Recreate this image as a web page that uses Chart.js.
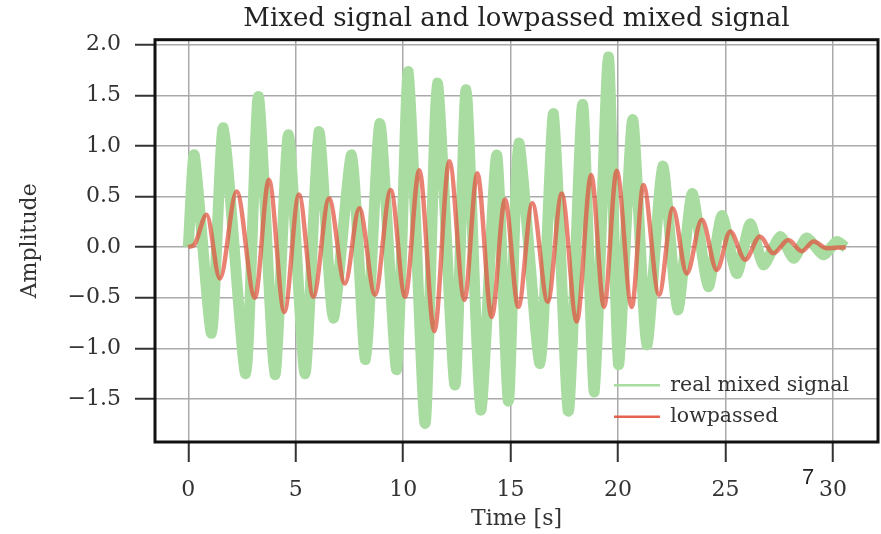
<!DOCTYPE html>
<html><head><meta charset="utf-8">
<script src="https://cdn.jsdelivr.net/npm/chart.js@4.4.0/dist/chart.umd.min.js"></script>
<style>html,body{margin:0;padding:0;background:#fff;} #wrap{width:881px;height:534px;position:relative;}</style>
</head><body><div id="wrap"><canvas id="c"></canvas></div>
<script>
const titleText = 'Mixed signal and lowpassed mixed signal';
const xLabel = 'Time [s]';
const yLabel = 'Amplitude';
const seriesNames = ['real mixed signal', 'lowpassed'];
const xTicks = [0, 5, 10, 15, 20, 25, 30];
const yTicks = [-1.5, -1.0, -0.5, 0.0, 0.5, 1.0, 1.5, 2.0];
const strayNote = '7';

// lowpassed signal: read at its turning points
const lowTimes = [0, 0.3, 0.85, 1.47, 2.25, 3.1, 3.75, 4.47, 5.15, 5.82, 6.55, 7.29, 7.96, 8.69, 9.42, 10.09, 10.75, 11.45, 12.15, 12.85, 13.45, 14.12, 14.74, 15.36, 16.01, 16.73, 17.38, 18.08, 18.75, 19.35, 19.94, 20.64, 21.18, 21.91, 22.55, 23.2, 23.9, 24.6, 25.22, 25.92, 26.6, 27.23, 27.93, 28.55, 29.1, 29.72, 30.6];
const lowValues = [0, 0.03, 0.32, -0.31, 0.55, -0.50, 0.665, -0.64, 0.52, -0.49, 0.48, -0.36, 0.385, -0.47, 0.566, -0.49, 0.76, -0.83, 0.85, -0.52, 0.73, -0.69, 0.47, -0.59, 0.435, -0.54, 0.53, -0.735, 0.714, -0.59, 0.754, -0.59, 0.615, -0.47, 0.385, -0.26, 0.27, -0.225, 0.155, -0.125, 0.105, -0.06, 0.07, -0.04, 0.055, -0.01, 0.0];

// real mixed signal: read at the tips of its bursts
const mixTimes = [0, 0.28, 1.08, 1.63, 2.67, 3.26, 4.03, 4.66, 5.43, 6.08, 6.75, 7.6, 8.25, 8.92, 9.70, 10.24, 11.02, 11.59, 12.41, 12.93, 13.61, 14.35, 14.9, 15.38, 16.37, 17.0, 17.69, 18.35, 18.9, 19.55, 20.02, 20.68, 21.34, 22.08, 22.78, 23.45, 24.2, 24.83, 25.53, 26.15, 26.77, 27.55, 28.17, 28.78, 29.56, 30.17, 30.6];
const mixValues = [0, 0.91, -0.85, 1.18, -1.25, 1.49, -1.26, 1.11, -1.25, 1.14, -0.70, 0.91, -1.11, 1.22, -1.21, 1.735, -1.74, 1.62, -1.36, 1.555, -1.61, 0.91, -1.52, 1.03, -1.15, 1.32, -1.62, 1.41, -1.43, 1.88, -1.16, 1.26, -0.965, 0.80, -0.62, 0.53, -0.39, 0.31, -0.26, 0.23, -0.175, 0.105, -0.11, 0.09, -0.076, 0.055, 0];

const FONT = 'DejaVu Serif';
const GREEN = '#a8dca0';
const RED = 'rgba(226,82,62,0.72)';
const toXY = (ts, vs) => ts.map((t, i) => ({x: t, y: vs[i]}));

const framePlugin = {
  id: 'frame',
  afterDraw(chart) {
    const a = chart.chartArea, c = chart.ctx;
    c.save();
    c.strokeStyle = '#111';
    c.lineWidth = 3;
    c.strokeRect(a.left, a.top, a.right - a.left, a.bottom - a.top);
    c.restore();
  }
};
const legendPlacer = {
  id: 'legendPlacer',
  afterLayout(chart) {
    const l = chart.legend;
    if (!l) return;
    const a = chart.chartArea;
    const w = l.width, h = l.height;
    l.left = a.right - 275; l.right = l.left + w + 400;
    l.top = a.bottom - 78; l.bottom = l.top + h + 200;
  }
};
const notePlugin = {
  id: 'note',
  afterDraw(chart) {
    const c = chart.ctx, xs = chart.scales.x, a = chart.chartArea;
    c.save();
    c.font = '22px "Liberation Sans"';
    c.fillStyle = '#222';
    c.textAlign = 'center';
    c.textBaseline = 'middle';
    c.fillText(strayNote, xs.getPixelForValue(28.85), a.bottom + 36);
    c.restore();
  }
};

new Chart(document.getElementById('c'), {
  type: 'line',
  data: {datasets: [
    {label: seriesNames[1], data: toXY(lowTimes, lowValues), borderColor: RED, borderWidth: 4.5, pointRadius: 0, cubicInterpolationMode: 'monotone', fill: false},
    {label: seriesNames[0], data: toXY(mixTimes, mixValues), borderColor: GREEN, borderWidth: 11, pointRadius: 0, tension: 0.2, borderJoinStyle: 'bevel', fill: false}
  ]},
  options: {
    responsive: true, maintainAspectRatio: false, animation: false,
    layout: {padding: {left: 0, right: 3, top: 0, bottom: 0}},
    scales: {
      x: {
        type: 'linear', min: -1.55, max: 32.1,
        afterBuildTicks: s => { s.ticks = xTicks.map(v => ({value: v})); },
        afterFit: s => { s.height = 92; },
        grid: {color: '#aaaaaa', lineWidth: 1.5, tickLength: 20, tickWidth: 2, tickColor: '#333', drawTicks: true},
        border: {display: false},
        ticks: {font: {family: FONT, size: 22}, color: '#333', padding: 15, maxRotation: 0, autoSkip: false, callback: v => String(v)},
        title: {display: true, text: xLabel, font: {family: FONT, size: 22}, color: '#333', padding: {top: 0, bottom: 2}}
      },
      y: {
        type: 'linear', min: -1.925, max: 2.05,
        afterBuildTicks: s => { s.ticks = yTicks.map(v => ({value: v})); },
        afterFit: s => { s.width = 155; },
        grid: {color: '#aaaaaa', lineWidth: 1.5, tickLength: 20, tickWidth: 2, tickColor: '#333', drawTicks: true},
        border: {display: false},
        ticks: {font: {family: FONT, size: 22}, color: '#333', padding: 14, autoSkip: false, callback: v => (v < 0 ? '\u2212' : '') + Math.abs(v).toFixed(1)},
        title: {display: true, text: yLabel, font: {family: FONT, size: 22}, color: '#333', padding: {top: 17, bottom: 0}}
      }
    },
    plugins: {
      title: {display: true, fullSize: false, text: titleText, font: {family: FONT, size: 26, weight: 'normal'}, color: '#222', padding: {top: 4, bottom: 4.5}},
      legend: {
        display: true, position: 'chartArea', align: 'start',
        labels: {
          usePointStyle: true, pointStyleWidth: 46, padding: 11, color: '#333',
          font: {family: FONT, size: 20.5},
          generateLabels: () => [
            {text: seriesNames[0], strokeStyle: GREEN, fillStyle: GREEN, lineWidth: 2.5, pointStyle: 'line', datasetIndex: 1, hidden: false, fontColor: '#333'},
            {text: seriesNames[1], strokeStyle: 'rgba(226,82,62,0.9)', fillStyle: 'rgba(226,82,62,0.9)', lineWidth: 2.5, pointStyle: 'line', datasetIndex: 0, hidden: false, fontColor: '#333'}
          ]
        }
      },
      tooltip: {enabled: false}
    }
  },
  plugins: [framePlugin, legendPlacer, notePlugin]
});
</script></body></html>
